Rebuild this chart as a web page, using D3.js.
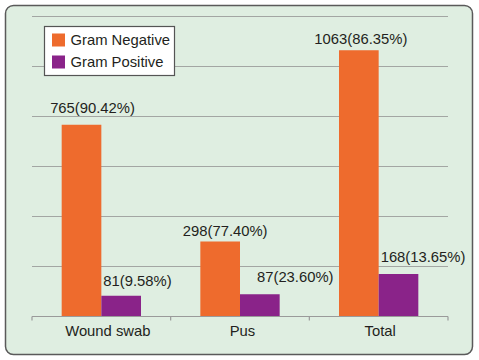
<!DOCTYPE html>
<html>
<head>
<meta charset="utf-8">
<script src="https://cdn.jsdelivr.net/npm/d3@7"></script>
<style>
  html, body { margin: 0; padding: 0; background: #ffffff; }
  svg { display: block; }
  text { font-family: "Liberation Sans", Arial, sans-serif; fill: #231f20; }
</style>
</head>
<body>
<svg id="chart" width="479" height="360"></svg>
<script>
// ---- data ----
const categories = ["Wound swab", "Pus", "Total"];
const seriesNames = ["Gram Negative", "Gram Positive"];
const gramNegative = [765, 298, 1063];
const gramPositive = [81, 87, 168];
const negLabels = ["765(90.42%)", "298(77.40%)", "1063(86.35%)"];
const posLabels = ["81(9.58%)", "87(23.60%)", "168(13.65%)"];
const yTicks = [0, 200, 400, 600, 800, 1000, 1200];

// ---- layout / style ----
const colors = ["#ee6b2d", "#8a2389"];
const plot = { left: 32, right: 448, top: 16, bottom: 316 };
const fontSize = "14.8px";
const negLabelDx = [11, 5, 2];
const negLabelDy = [-12, -6, -6];
const posLabelDx = [2, 17, 2];
const posLabelDy = [-10, -12, -12];
const catLabelDx = [6.5, 2.5, 1.5];

const svg = d3.select("#chart");

// panel
svg.append("rect")
  .attr("x", 5.5).attr("y", 5.5)
  .attr("width", 467).attr("height", 349)
  .attr("rx", 8).attr("ry", 8)
  .attr("fill", "#dfeee1")
  .attr("stroke", "#5a5a5a").attr("stroke-width", 1.5);

const x0 = d3.scaleBand().domain(categories).range([plot.left, plot.right]).paddingInner(0).paddingOuter(0);
const groupW = x0.bandwidth() * 0.572;
const x1 = d3.scaleBand().domain(seriesNames).range([0, groupW]).padding(0);
const y = d3.scaleLinear().domain([0, 1200]).range([plot.bottom, plot.top]);

// gridlines
svg.append("g").selectAll("line")
  .data(yTicks.filter(d => d > 0))
  .join("line")
  .attr("x1", plot.left).attr("x2", plot.right)
  .attr("y1", d => Math.round(y(d)) + 0.5).attr("y2", d => Math.round(y(d)) + 0.5)
  .attr("stroke", "#a3a6a3").attr("stroke-width", 1.2);

// bars
const groups = svg.append("g").selectAll("g")
  .data(categories)
  .join("g")
  .attr("transform", d => `translate(${x0(d) + (x0.bandwidth() - groupW) / 2},0)`);

groups.each(function(cat, i) {
  const g = d3.select(this);
  const vals = [gramNegative[i], gramPositive[i]];
  g.selectAll("rect")
    .data(vals)
    .join("rect")
    .attr("x", (d, j) => x1(seriesNames[j]))
    .attr("width", x1.bandwidth())
    .attr("y", d => y(d))
    .attr("height", d => y(0) - y(d))
    .attr("fill", (d, j) => colors[j]);

  g.append("text")
    .attr("x", x1(seriesNames[0]) + x1.bandwidth() / 2 + negLabelDx[i])
    .attr("y", y(gramNegative[i]) + negLabelDy[i])
    .attr("text-anchor", "middle")
    .attr("font-size", fontSize)
    .text(negLabels[i]);

  g.append("text")
    .attr("x", x1(seriesNames[1]) + posLabelDx[i])
    .attr("y", y(gramPositive[i]) + posLabelDy[i])
    .attr("text-anchor", "start")
    .attr("font-size", fontSize)
    .text(posLabels[i]);
});

// x axis
const xAxis = svg.append("g").attr("transform", `translate(0,${plot.bottom + 0.5})`);
xAxis.append("line")
  .attr("x1", plot.left).attr("x2", plot.right)
  .attr("stroke", "#9a9a9a").attr("stroke-width", 1.2);
const tickPos = categories.map(c => x0(c)).concat([plot.right]);
xAxis.selectAll("line.tick")
  .data(tickPos)
  .join("line")
  .attr("class", "tick")
  .attr("x1", d => d).attr("x2", d => d)
  .attr("y1", 0).attr("y2", 4)
  .attr("stroke", "#9a9a9a").attr("stroke-width", 1.2);
xAxis.selectAll("text")
  .data(categories)
  .join("text")
  .attr("x", (d, i) => x0(d) + x0.bandwidth() / 2 + catLabelDx[i])
  .attr("y", 19)
  .attr("text-anchor", "middle")
  .attr("font-size", fontSize)
  .text(d => d);

// legend
const lg = svg.append("g");
lg.append("rect")
  .attr("x", 44.5).attr("y", 26.5)
  .attr("width", 130).attr("height", 49)
  .attr("fill", "#ffffff")
  .attr("stroke", "#555555").attr("stroke-width", 1.2);
seriesNames.forEach((s, i) => {
  lg.append("rect")
    .attr("x", 52).attr("y", 33.5 + i * 22)
    .attr("width", 13).attr("height", 13)
    .attr("fill", colors[i]);
  lg.append("text")
    .attr("x", 70.5).attr("y", 45 + i * 22)
    .attr("font-size", fontSize)
    .text(s);
});
</script>
</body>
</html>
